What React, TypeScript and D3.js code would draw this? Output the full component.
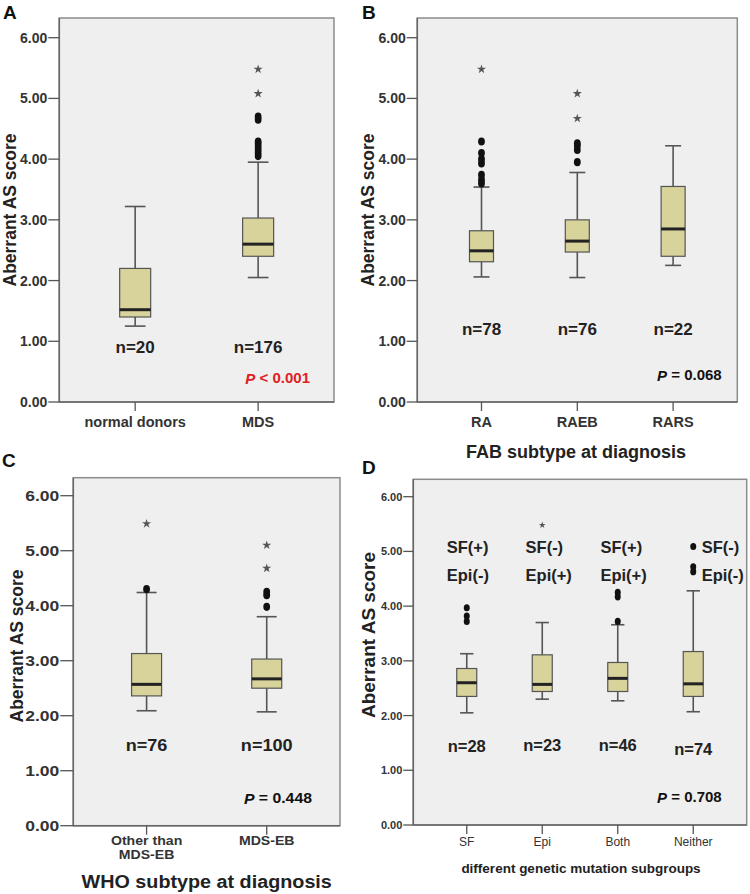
import React from "react";
import * as d3 from "d3";

// box stats per group: [lower whisker, Q1, median, Q3, upper whisker]

// A
const catsA = ["normal donors", "MDS"];
const boxA = [
  [1.25, 1.40, 1.52, 2.20, 3.22],
  [2.05, 2.40, 2.60, 3.03, 3.95],
];
const outA = [[], [4.05, 4.10, 4.15, 4.20, 4.25, 4.29, 4.65, 4.70]];
const extA = [[], [5.08, 5.48]];
const nA = ["n=20", "n=176"];

// B
const catsB = ["RA", "RAEB", "RARS"];
const boxB = [
  [2.06, 2.31, 2.49, 2.82, 3.54],
  [2.05, 2.47, 2.65, 3.00, 3.78],
  [2.25, 2.40, 2.85, 3.55, 4.22],
];
const outB = [[3.60, 3.66, 3.74, 3.93, 4.00, 4.10, 4.29], [3.95, 4.15, 4.22, 4.26], []];
const extB = [[5.48], [4.67, 5.08], []];
const nB = ["n=78", "n=76", "n=22"];

// C
const catsC = ["Other than\nMDS-EB", "MDS-EB"];
const boxC = [
  [2.09, 2.36, 2.57, 3.13, 4.24],
  [2.07, 2.50, 2.67, 3.03, 3.80],
];
const outC = [[4.30], [3.98, 4.19, 4.25]];
const extC = [[5.49], [4.68, 5.10]];
const nC = ["n=76", "n=100"];

// D
const catsD = ["SF", "Epi", "Both", "Neither"];
const boxD = [
  [2.05, 2.35, 2.60, 2.86, 3.13],
  [2.30, 2.44, 2.57, 3.11, 3.70],
  [2.27, 2.44, 2.68, 2.97, 3.66],
  [2.07, 2.35, 2.58, 3.17, 4.28],
];
const outD = [[3.72, 3.82, 3.97], [], [3.72, 4.17, 4.25], [4.63, 4.72, 5.09]];
const extD = [[], [5.48], [], []];
const nD = ["n=28", "n=23", "n=46", "n=74"];
const noteD = [["SF(+)", "Epi(-)"], ["SF(-)", "Epi(+)"], ["SF(+)", "Epi(+)"], ["SF(-)", "Epi(-)"]];

const yTicks = [0, 1, 2, 3, 4, 5, 6];

const FONT = "'Liberation Sans', Arial, sans-serif";
const BOX_FILL = "#d8d39b";

function T({ x, y, sx = 1, children, ...rest }: any) {
  return (
    <text transform={`translate(${x},${y}) scale(${sx},1)`} fontFamily={FONT} dominantBaseline="central" {...rest}>
      {children}
    </text>
  );
}

function Panel(p: any) {
  const y = d3.scaleLinear().domain([0, 6]).range([p.y0, p.y6]);
  const x = d3.scalePoint<string>().domain(p.cats).range([p.x0, p.x1]).padding(p.pad);
  const star = d3.symbol().type(d3.symbolStar).size(p.starSize || 26)();
  const sx = p.sx || 1;
  const fmt = d3.format(".2f");
  const bw = p.boxW;

  return (
    <g>
      <rect x={p.x0} y={p.top} width={p.x1 - p.x0} height={p.y0 - p.top} fill="#efefef" stroke="#8c8c8c" strokeWidth={1.5} />
      <line x1={p.x0} x2={p.x0} y1={p.top} y2={p.y0} stroke="#666" strokeWidth={1.5} />
      <line x1={p.x0} x2={p.x1} y1={p.y0} y2={p.y0} stroke="#666" strokeWidth={1.5} />
      {yTicks.map(t => (
        <g key={t}>
          <line x1={p.x0 - p.tickLen} x2={p.x0} y1={y(t)} y2={y(t)} stroke="#555" strokeWidth={1.3} />
          <T x={p.x0 - p.tickLen - 1} y={y(t)} sx={sx} textAnchor="end" fontSize={p.tickFont} fontWeight="bold" fill="#333">{fmt(t)}</T>
        </g>
      ))}
      {p.cats.map((c: string, i: number) => {
        const cx = x(c)!;
        const [lo, q1, md, q3, hi] = p.box[i];
        return (
          <g key={c}>
            <line x1={cx} x2={cx} y1={p.y0} y2={p.y0 + 9} stroke="#555" strokeWidth={1.3} />
            {c.split("\n").map((s, j) => (
              <T key={j} x={cx} y={p.xLabY + j * p.xLabGap} sx={sx} textAnchor="middle" fontSize={p.xLabFont} fontWeight={p.xLabWeight || "bold"} fill="#333">{s}</T>
            ))}
            <line x1={cx} x2={cx} y1={y(hi)} y2={y(q3)} stroke="#555" strokeWidth={1.6} />
            <line x1={cx} x2={cx} y1={y(q1)} y2={y(lo)} stroke="#555" strokeWidth={1.6} />
            <line x1={cx - bw / 3} x2={cx + bw / 3} y1={y(hi)} y2={y(hi)} stroke="#555" strokeWidth={1.6} />
            <line x1={cx - bw / 3} x2={cx + bw / 3} y1={y(lo)} y2={y(lo)} stroke="#555" strokeWidth={1.6} />
            <rect x={cx - bw / 2} y={y(q3)} width={bw} height={y(q1) - y(q3)} fill={BOX_FILL} stroke="#555" strokeWidth={1.2} />
            <line x1={cx - bw / 2} x2={cx + bw / 2} y1={y(md)} y2={y(md)} stroke="#222" strokeWidth={3} />
            {p.out[i].map((v: number, k: number) => (
              <ellipse key={k} cx={cx} cy={y(v)} rx={p.dotR} ry={p.dotR * 1.2} fill="#111" />
            ))}
            {p.ext[i].map((v: number, k: number) => (
              <path key={k} d={star!} transform={`translate(${cx},${y(v)})`} fill="#555" />
            ))}
            <T x={cx} y={y(p.nVal[i] ?? p.nVal[0])} sx={sx} textAnchor="middle" fontSize={p.nFont} fontWeight="bold" fill="#222">{p.n[i]}</T>
            {p.notes && p.notes[i].map((s: string, j: number) => (
              <T key={j} x={cx + p.noteDx[i]} y={y(p.noteVal[j])} textAnchor="start" fontSize={p.noteFont} fontWeight="bold" fill="#222">{s}</T>
            ))}
          </g>
        );
      })}
      <T x={p.pX} y={y(p.pVal)} sx={sx} textAnchor="end" fontSize={p.pFont} fontWeight="bold" fill={p.pColor}>
        <tspan fontStyle="italic">P</tspan>{p.pText}
      </T>
      <text transform={`translate(${p.yLabX},${p.yLabY}) rotate(-90)`} textAnchor="middle" fontFamily={FONT} fontSize={p.yLabFont} fontWeight="bold" fill="#222">Aberrant AS score</text>
      <text x={p.letterX} y={p.letterY} fontFamily={FONT} fontSize={19} fontWeight="bold" fill="#111">{p.letter}</text>
      {p.title && (
        <T x={p.titleX} y={p.titleY} sx={sx} textAnchor="middle" fontSize={p.titleFont} fontWeight="bold" fill="#222">{p.title}</T>
      )}
    </g>
  );
}

export default function App() {
  return (
    <svg width={750} height={894} style={{ position: "absolute", left: 0, top: 0, background: "#fff" }}>
      <Panel letter="A" letterX={3} letterY={19}
        cats={catsA} box={boxA} out={outA} ext={extA} n={nA}
        x0={59.3} x1={334} top={18} y0={402} y6={37.7} pad={0.617} boxW={31} dotR={3.4}
        tickLen={11} tickFont={14} xLabY={421.7} xLabGap={0} xLabFont={14.5}
        nVal={[0.89]} nFont={17}
        pX={310} pVal={0.40} pFont={15} pText=" < 0.001" pColor="#e0211f"
        yLabX={16} yLabY={210} yLabFont={17.5} />
      <Panel letter="B" letterX={362} letterY={19}
        cats={catsB} box={boxB} out={outB} ext={extB} n={nB}
        x0={417.3} x1={737.3} top={18} y0={402} y6={37.7} pad={0.67} boxW={24} dotR={3.4}
        tickLen={10.6} tickFont={14} xLabY={421.7} xLabGap={0} xLabFont={14.5}
        nVal={[1.19]} nFont={17}
        pX={721.7} pVal={0.445} pFont={15} pText=" = 0.068" pColor="#111"
        yLabX={374} yLabY={210} yLabFont={17.5}
        title="FAB subtype at diagnosis" titleX={576} titleY={452} titleFont={18} />
      <Panel letter="C" letterX={2} letterY={467}
        cats={catsC} box={boxC} out={outC} ext={extC} n={nC} sx={1.13}
        x0={73.3} x1={340} top={477.7} y0={825.7} y6={495.7} pad={0.61} boxW={30} dotR={3.4}
        tickLen={13} tickFont={15.5} xLabY={841.2} xLabGap={13.6} xLabFont={12.5}
        nVal={[1.45]} nFont={16}
        pX={312} pVal={0.50} pFont={14} pText=" = 0.448" pColor="#111"
        yLabX={23} yLabY={646} yLabFont={17.5}
        title="WHO subtype at diagnosis" titleX={206.7} titleY={881.7} titleFont={17.5} />
      <Panel letter="D" letterX={362} letterY={474}
        cats={catsD} box={boxD} out={outD} ext={extD} n={nD} starSize={14}
        x0={413.3} x1={746.7} top={479.3} y0={825} y6={496.7} pad={0.708} boxW={20} dotR={3}
        tickLen={10} tickFont={11} xLabY={841.7} xLabGap={0} xLabFont={12} xLabWeight="normal"
        nVal={[1.45, 1.46, 1.47, 1.38]} nFont={16.5}
        notes={noteD} noteDx={[-20, -16.7, -17.3, 8.4]} noteVal={[5.08, 4.57]} noteFont={16.5}
        pX={721.7} pVal={0.52} pFont={15} pText=" = 0.708" pColor="#111"
        yLabX={375} yLabY={635} yLabFont={19}
        title="different genetic mutation subgroups" titleX={581} titleY={868.3} titleFont={13.5} />
    </svg>
  );
}
